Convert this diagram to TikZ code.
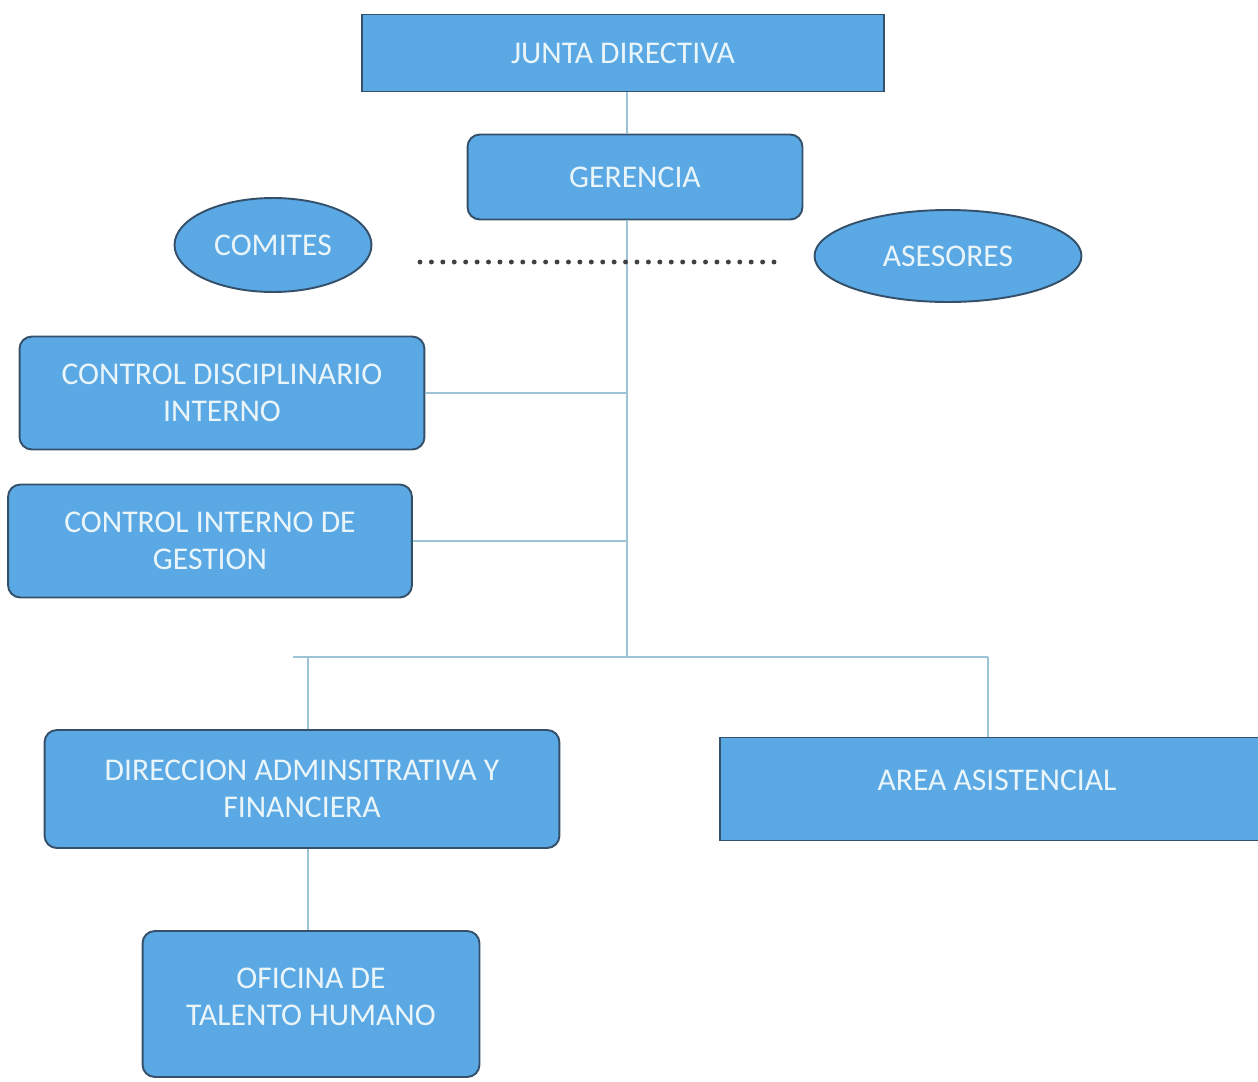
\documentclass[tikz,border=0pt]{standalone}
\usepackage{fontspec}
\setmainfont{Carlito}
\usetikzlibrary{shapes.geometric}
\definecolor{boxblue}{HTML}{5BA9E4}
\definecolor{boxline}{HTML}{34506A}
\definecolor{boxtext}{HTML}{EAF5FA}
\definecolor{linkline}{HTML}{9DC4D6}

\begin{document}
\begin{tikzpicture}[x=0.02cm,y=-0.02cm,
  box/.style={draw=boxline, fill=boxblue, text=boxtext, line width=1.1pt,
    align=center, inner sep=0pt, font=\fontsize{18}{21}\selectfont},
  roundbox/.style={box, rounded corners=7pt},
  oval/.style={box, ellipse},
  link/.style={draw=linkline, line width=0.9pt}]
 	\useasboundingbox (0,0) rectangle (1258,1082);
 	% boxes
 	\node [box, minimum width=10.44cm, minimum height=1.54cm] (jd) at (623,53) {JUNTA DIRECTIVA};
 	\node [roundbox, minimum width=6.7cm, minimum height=1.7cm] (ger) at (635,177) {GERENCIA};
 	\node [oval, minimum width=3.94cm, minimum height=1.88cm] (com) at (273,245) {COMITES};
 	\node [oval, minimum width=5.34cm, minimum height=1.84cm] (ase) at (948,256) {ASESORES};
 	\node [roundbox, minimum width=8.1cm, minimum height=2.26cm] (cdi) at (222,393) {CONTROL DISCIPLINARIO\\INTERNO};
 	\node [roundbox, minimum width=8.08cm, minimum height=2.26cm] (cig) at (210,541) {CONTROL INTERNO DE\\GESTION};
 	\node [roundbox, minimum width=10.3cm, minimum height=2.36cm] (dir) at (302,789) {DIRECCION ADMINSITRATIVA Y\\FINANCIERA};
 	\node [box, minimum width=11.1cm, minimum height=2.06cm, text depth=0.36cm] (area) at (997,789) {AREA ASISTENCIAL};
 	\node [roundbox, minimum width=6.74cm, minimum height=2.92cm, text depth=0.3cm] (ofi) at (311,1004) {OFICINA DE\\TALENTO HUMANO};
 	% connectors
 	\coordinate (trunk) at (627,657);
 	\coordinate (barl) at (293,657);
 	\coordinate (barr) at (988,657);
 	\coordinate (dirj) at (308,657);
 	\coordinate (dotl) at (420,262);
 	\coordinate (dotr) at (778,262);
 	\draw [link] (jd.south -| trunk) -- (ger.north -| trunk);
 	\draw [link] (ger.south -| trunk) -- (trunk);
 	\draw [link] (cdi.east) -- (cdi.east -| trunk);
 	\draw [link] (cig.east) -- (cig.east -| trunk);
 	\draw [link] (barl) -- (barr);
 	\draw [link] (dirj) -- (dir.north -| dirj);
 	\draw [link] (barr) -- (area.north -| barr);
 	\draw [link] (dir.south -| dirj) -- (ofi.north -| dirj);
 	\draw [black!75, line width=2.8pt, line cap=round, dash pattern=on 0pt off 6.5pt] (dotl) -- (dotr);
\end{tikzpicture}
\end{document}
